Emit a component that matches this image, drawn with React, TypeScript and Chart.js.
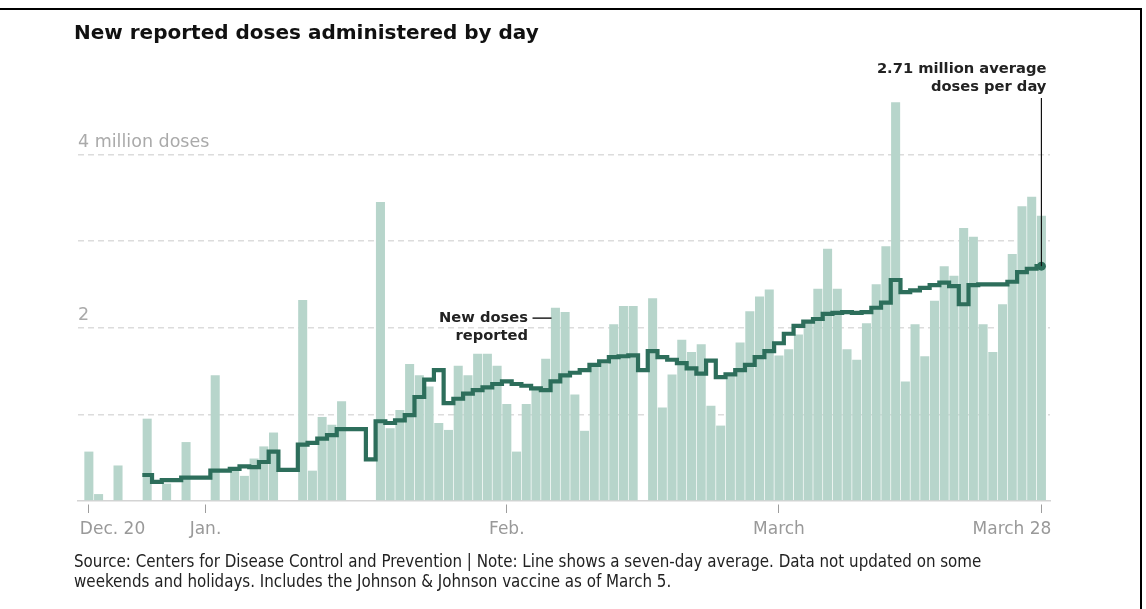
import React, { useEffect, useRef } from "react";
import { Chart, registerables } from "chart.js";

Chart.register(...registerables);

// Day offsets from Dec. 20, 2020 (0) through March 28, 2021 (98)
const dayOffsets: number[] = Array.from({ length: 99 }, (_, i) => i);

// New reported doses per day, millions (null = not reported)
const newDoses: (number | null)[] = [
  0.57, 0.08, null, 0.41, null, null, 0.95, null, 0.2, null,
  0.68, null, null, 1.45, null, 0.36, 0.29, 0.49, 0.63, 0.79,
  null, null, 2.32, 0.35, 0.97, 0.88, 1.15, null, null, null,
  3.45, 0.84, 1.05, 1.58, 1.45, 1.32, 0.9, 0.82, 1.56, 1.45,
  1.7, 1.7, 1.56, 1.12, 0.57, 1.12, 1.28, 1.64, 2.23, 2.18,
  1.23, 0.81, 1.58, 1.58, 2.04, 2.25, 2.25, null, 2.34, 1.08,
  1.46, 1.86, 1.72, 1.81, 1.1, 0.87, 1.44, 1.83, 2.19, 2.36,
  2.44, 1.68, 1.75, 1.92, 2.06, 2.45, 2.91, 2.45, 1.75, 1.63,
  2.05, 2.5, 2.94, 4.6, 1.38, 2.04, 1.67, 2.31, 2.71, 2.6,
  3.15, 3.05, 2.04, 1.72, 2.27, 2.85, 3.4, 3.51, 3.29,
];

// Seven-day average, millions
const sevenDayAvg: (number | null)[] = [
  null, null, null, null, null, null, 0.3, 0.22, 0.24, 0.24,
  0.27, 0.27, 0.27, 0.35, 0.35, 0.37, 0.4, 0.39, 0.45, 0.57,
  0.36, 0.36, 0.65, 0.67, 0.72, 0.76, 0.83, 0.83, 0.83, 0.48,
  0.92, 0.9, 0.93, 0.99, 1.2, 1.4, 1.51, 1.13, 1.18, 1.24,
  1.28, 1.31, 1.35, 1.38, 1.35, 1.33, 1.3, 1.28, 1.38, 1.45,
  1.48, 1.51, 1.57, 1.61, 1.66, 1.67, 1.68, 1.51, 1.73, 1.66,
  1.63, 1.59, 1.53, 1.47, 1.62, 1.43, 1.46, 1.51, 1.57, 1.66,
  1.73, 1.82, 1.93, 2.02, 2.07, 2.1, 2.16, 2.17, 2.18, 2.17,
  2.18, 2.23, 2.29, 2.55, 2.41, 2.43, 2.46, 2.49, 2.52, 2.48,
  2.27, 2.49, 2.5, 2.5, 2.5, 2.53, 2.64, 2.68, 2.71,
];

const tickDays: number[] = [0, 12, 43, 71, 98];
const tickLabels: string[] = ["Dec. 20", "Jan.", "Feb.", "March", "March 28"];
const yTickValues: number[] = [0, 1, 2, 3, 4];
const yTickLabels: string[] = ["", "", "2", "", "4 million doses"];

const TITLE = "New reported doses administered by day";
const NOTE_LINES: string[] = [
  "Source: Centers for Disease Control and Prevention | Note: Line shows a seven-day average. Data not updated on some",
  "weekends and holidays. Includes the Johnson & Johnson vaccine as of March 5.",
];
const LATEST_LABEL: string[] = ["2.71 million average", "doses per day"];
const SERIES_LABEL: string[] = ["New doses", "reported"];
const SERIES_LABEL_AT = { day: 47.6, value: 2.11 };

const BAR_COLOR = "#b7d5cb";
const LINE_COLOR = "#2d6e5b";
const FONT = "DejaVu Sans";

const lastIdx = sevenDayAvg.length - 1;
const firstAvg = sevenDayAvg.findIndex((v) => v !== null);
const linePoints: { x: number; y: number | null }[] = [];
for (let i = firstAvg; i <= lastIdx; i++) {
  linePoints.push({ x: dayOffsets[i] - 0.5, y: sevenDayAvg[i] });
}
linePoints.push({ x: dayOffsets[lastIdx], y: sevenDayAvg[lastIdx] });

const barPoints = dayOffsets.map((d, i) => ({ x: d, y: newDoses[i] }));

const annotationPlugin = {
  id: "annotations",
  afterDraw(chart: any) {
    const { ctx, chartArea } = chart;
    const x = chart.scales.x;
    const y = chart.scales.y;
    ctx.save();

    // x tick labels
    ctx.font = `17px "${FONT}"`;
    ctx.fillStyle = "#999999";
    ctx.textBaseline = "alphabetic";
    tickDays.forEach((d, i) => {
      const px = x.getPixelForValue(d);
      let align = "center";
      let dx = 0;
      if (i === 0) {
        align = "left";
        dx = -9;
      } else if (i === tickDays.length - 1) {
        align = "right";
        dx = 10;
      }
      ctx.textAlign = align;
      ctx.fillText(tickLabels[i], px + dx, chartArea.bottom + 33);
    });

    // latest value leader + label
    const lx = x.getPixelForValue(dayOffsets[lastIdx]);
    const ly = y.getPixelForValue(sevenDayAvg[lastIdx] as number);
    ctx.strokeStyle = "#111111";
    ctx.lineWidth = 1.2;
    ctx.beginPath();
    ctx.moveTo(lx, 98);
    ctx.lineTo(lx, ly);
    ctx.stroke();
    ctx.font = `bold 14.7px "${FONT}"`;
    ctx.fillStyle = "#222222";
    ctx.textAlign = "right";
    ctx.fillText(LATEST_LABEL[0], lx + 5, 73);
    ctx.fillText(LATEST_LABEL[1], lx + 5, 90.5);

    // series label
    const ax = x.getPixelForValue(SERIES_LABEL_AT.day);
    const ay = y.getPixelForValue(SERIES_LABEL_AT.value);
    ctx.lineWidth = 1.5;
    ctx.strokeStyle = "#222222";
    ctx.beginPath();
    ctx.moveTo(ax - 19, ay);
    ctx.lineTo(ax, ay);
    ctx.stroke();
    ctx.fillText(SERIES_LABEL[0], ax - 23.5, ay + 3.5);
    ctx.fillText(SERIES_LABEL[1], ax - 23.5, ay + 21.5);

    ctx.restore();
  },
};

export default function App() {
  const canvasRef = useRef<HTMLCanvasElement | null>(null);

  useEffect(() => {
    const canvas = canvasRef.current;
    if (!canvas) return;
    Chart.defaults.font.family = FONT;
    const chart = new Chart(canvas, {
      type: "bar",
      data: {
        datasets: [
          {
            type: "line",
            label: "Seven-day average",
            data: linePoints as any,
            borderColor: LINE_COLOR,
            backgroundColor: LINE_COLOR,
            borderWidth: 4.2,
            stepped: "before",
            fill: false,
            tension: 0,
            borderJoinStyle: "miter",
            borderCapStyle: "butt",
            pointRadius: (c: any) => (c.dataIndex === linePoints.length - 1 ? 4.5 : 0),
            pointHoverRadius: 0,
            pointBorderWidth: 0,
            pointBackgroundColor: LINE_COLOR,
            order: 0,
          } as any,
          {
            type: "bar",
            label: "New doses reported",
            data: barPoints as any,
            backgroundColor: BAR_COLOR,
            barPercentage: 0.93,
            categoryPercentage: 1,
            order: 1,
          } as any,
        ],
      },
      options: {
        responsive: false,
        animation: false,
        events: [],
        layout: { padding: { left: 78, right: 96, top: 85, bottom: 0 } },
        plugins: {
          legend: { display: false },
          tooltip: { enabled: false },
          title: { display: false },
        },
        scales: {
          x: {
            type: "linear",
            min: -1.117,
            max: 98.883,
            offset: false,
            grid: {
              offset: false,
              drawOnChartArea: false,
              drawTicks: true,
              tickLength: 12,
              tickColor: "#9d9d9d",
              tickWidth: 1,
              tickBorderDash: [0, 3, 9, 40],
            },
            border: { display: true, color: "#d4d4d4", width: 1.5 },
            ticks: { display: false, autoSkip: false },
            afterBuildTicks: (s: any) => {
              s.ticks = tickDays.map((v) => ({ value: v }));
            },
            afterFit: (s: any) => {
              s.height = 108;
            },
          },
          y: {
            type: "linear",
            min: 0,
            max: 4.8,
            grid: {
              color: (c: any) => (c.tick && c.tick.value === 0 ? "rgba(0,0,0,0)" : "#dcdcdc"),
              lineWidth: 1.5,
              drawTicks: false,
            },
            border: { display: false, dash: [6, 4] },
            ticks: {
              mirror: true,
              padding: 0,
              labelOffset: -12,
              color: "#aaaaaa",
              autoSkip: false,
              font: { family: FONT, size: 17.5 },
              callback: (v: any) => {
                const i = yTickValues.indexOf(Number(v));
                return i >= 0 ? yTickLabels[i] : "";
              },
            },
            afterBuildTicks: (s: any) => {
              s.ticks = yTickValues.map((v) => ({ value: v }));
            },
            afterFit: (s: any) => {
              s.width = 0;
            },
          },
        },
      } as any,
      plugins: [annotationPlugin as any],
    });
    return () => chart.destroy();
  }, []);

  return (
    <div
      style={{
        position: "absolute",
        left: 0,
        top: 0,
        width: 1146,
        height: 609,
        overflow: "hidden",
        background: "#ffffff",
      }}
    >
      <div
        style={{
          position: "absolute",
          left: 0,
          top: 8,
          width: 1142,
          height: 620,
          boxSizing: "border-box",
          borderTop: "2px solid #000",
          borderRight: "2px solid #000",
        }}
      />
      <canvas
        ref={canvasRef}
        width={1146}
        height={609}
        style={{ position: "absolute", left: 0, top: 0, width: 1146, height: 609 }}
      />
      <div
        style={{
          position: "absolute",
          left: 74,
          top: 22,
          font: `bold 20px "${FONT}"`,
          lineHeight: "20px",
          color: "#111",
          whiteSpace: "nowrap",
        }}
      >
        {TITLE}
      </div>
      <div
        style={{
          position: "absolute",
          left: 74,
          top: 551,
          fontFamily: `"DejaVu Sans Condensed", "Liberation Sans", sans-serif`,
          fontSize: 16.8,
          lineHeight: "20px",
          color: "#222",
          whiteSpace: "nowrap",
        }}
      >
        {NOTE_LINES[0]}
        <br />
        {NOTE_LINES[1]}
      </div>
    </div>
  );
}
